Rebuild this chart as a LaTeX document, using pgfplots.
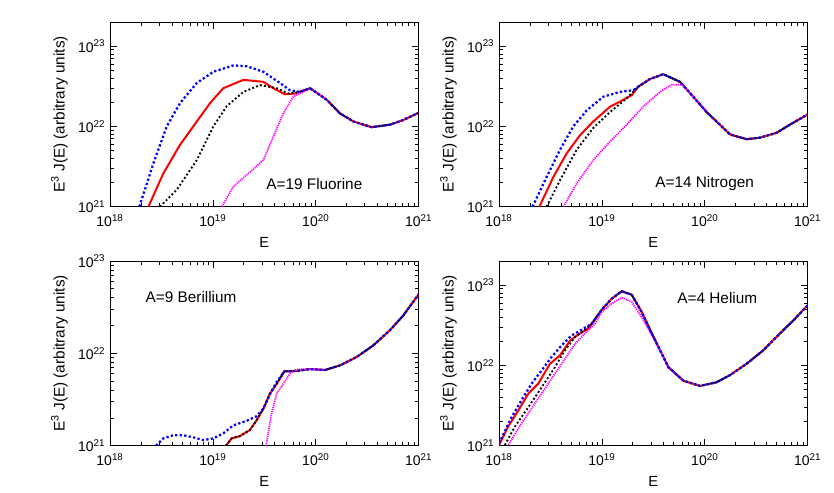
\documentclass[border=0pt]{standalone}
\usepackage{fontspec}
\setmainfont{Liberation Sans}
\usepackage{pgfplots}
\pgfplotsset{compat=1.18}
\definecolor{cred}{RGB}{255,0,0}
\definecolor{cblue}{RGB}{0,0,255}
\definecolor{cmag}{RGB}{255,0,255}
\pgfplotsset{
  every axis/.append style={
    scale only axis, width=231.5pt, height=138.5pt,
    xmin=1e18, xmax=1e21, ymin=1e21, ymax=2e23,
    xtick={1e18,1e19,1e20,1e21},
    xticklabels={10\textsuperscript{18},10\textsuperscript{19},10\textsuperscript{20},10\textsuperscript{21}},
    ytick={1e21,1e22,1e23},
    yticklabels={10\textsuperscript{21},10\textsuperscript{22},10\textsuperscript{23}},
    minor xtick={2e18,3e18,4e18,5e18,6e18,7e18,8e18,9e18,2e19,3e19,4e19,5e19,6e19,7e19,8e19,9e19,2e20,3e20,4e20,5e20,6e20,7e20,8e20,9e20},
    minor ytick={2e21,3e21,4e21,5e21,6e21,7e21,8e21,9e21,2e22,3e22,4e22,5e22,6e22,7e22,8e22,9e22},
    major tick length=5pt, minor tick length=3pt,
    tick align=inside, tick style={black, line width=0.6pt},
    axis line style={line width=0.7pt},
    xticklabel style={font=\fontsize{10.5pt}{12pt}\selectfont, yshift=-2.5pt},
    yticklabel style={font=\fontsize{10.5pt}{12pt}\selectfont},
    xlabel style={font=\fontsize{11pt}{13pt}\selectfont, yshift=-1pt},
    ylabel style={font=\fontsize{11.5pt}{13pt}\selectfont, yshift=1pt},
    xlabel={E},
    ylabel={E\textsuperscript{3} J(E) (arbitrary units)},
  },
}
\tikzset{
  sred/.style={cred, line width=1.5pt},
  sblk/.style={black, line width=1.4pt, dash pattern=on 1.4pt off 1.7pt},
  sblu/.style={cblue, line width=1.7pt, dash pattern=on 1.7pt off 1.7pt},
  smag/.style={cmag, line width=1.3pt, dash pattern=on 0.9pt off 0.7pt},
  ann/.style={font=\fontsize{11.5pt}{13pt}\selectfont, anchor=west},
}
\begin{document}
\begin{tikzpicture}
\useasboundingbox (0,0) rectangle (625.5pt,369pt);
% ---------------- Fluorine ----------------
\begin{loglogaxis}[at={(82.5pt,214pt)}, anchor=south west]
\addplot[sred] coordinates {(2.36e18,1e21) (3.30e18,2.60e21) (4.79e18,5.89e21) (6.97e18,1.15e22) (9.38e18,1.95e22) (1.26e19,2.99e22) (1.98e19,3.80e22) (3.09e19,3.59e22) (3.86e19,2.99e22) (5.01e19,2.51e22) (6.28e19,2.57e22)
 (8.79e19,2.99e22) (1.28e20,2.14e22) (1.72e20,1.45e22) (2.32e20,1.15e22) (3.49e20,9.77e21) (5.25e20,1.05e22) (7.08e20,1.20e22) (1e21,1.48e22)};
\addplot[sblk] coordinates {(3.06e18,1e21) (4.45e18,1.62e21) (6.97e18,3.80e21) (1.01e19,1.0e22) (1.36e19,1.78e22) (1.98e19,2.69e22) (2.87e19,3.27e22) (4.17e19,2.99e22) (5.41e19,2.57e22) (7.01e19,2.69e22)
 (8.79e19,2.99e22) (1.28e20,2.14e22) (1.72e20,1.45e22) (2.32e20,1.15e22) (3.49e20,9.77e21) (5.25e20,1.05e22) (7.08e20,1.20e22) (1e21,1.48e22)};
\addplot[smag] coordinates {(1.22e19,1e21) (1.58e19,1.78e21) (2.13e19,2.48e21) (3.09e19,3.80e21) (3.86e19,7.41e21) (4.83e19,1.45e22) (6.04e19,2.34e22) (8.13e19,2.82e22)
 (8.79e19,2.99e22) (1.28e20,2.14e22)};
\addplot[sblu] coordinates {(1.93e18,1e21) (2.64e18,3.47e21) (3.56e18,1.0e22) (4.79e18,1.95e22) (6.97e18,3.47e22) (1.01e19,4.79e22) (1.58e19,5.75e22) (2.13e19,5.62e22) (3.09e19,4.79e22) (4.49e19,3.47e22) (5.61e19,2.82e22) (7.01e19,2.69e22)
 (8.79e19,2.99e22) (1.28e20,2.14e22) (1.72e20,1.45e22) (2.32e20,1.15e22) (3.49e20,9.77e21) (5.25e20,1.05e22) (7.08e20,1.20e22) (1e21,1.48e22)};
\node[ann] at (axis cs:2.98e19,1.92e21) {A=19 Fluorine};
\end{loglogaxis}
% ---------------- Nitrogen ----------------
\begin{loglogaxis}[at={(374.25pt,214pt)}, anchor=south west]
\addplot[sred] coordinates {(2.47e18,1e21) (3.37e18,2.34e21) (4.55e18,4.62e21) (6.12e18,7.76e21) (8.24e18,1.15e22) (1.20e19,1.76e22) (1.50e19,2.04e22) (1.95e19,2.45e22)
 (2.26e19,3.13e22) (2.93e19,3.89e22) (3.95e19,4.47e22) (5.74e19,3.59e22) (7.73e19,2.34e22) (1.04e20,1.51e22) (1.30e20,1.15e22) (1.76e20,7.94e21) (2.55e20,6.92e21) (3.44e20,7.24e21) (4.99e20,8.32e21) (6.71e20,1.05e22) (1e21,1.41e22)};
\addplot[sblk] coordinates {(2.90e18,1e21) (3.92e18,2.14e21) (5.69e18,5.13e21) (8.24e18,9.55e21) (1.20e19,1.51e22) (1.74e19,2.24e22)
 (2.26e19,3.13e22) (2.93e19,3.89e22) (3.95e19,4.47e22) (5.74e19,3.59e22) (7.73e19,2.34e22) (1.04e20,1.51e22) (1.30e20,1.15e22) (1.76e20,7.94e21) (2.55e20,6.92e21) (3.44e20,7.24e21) (4.99e20,8.32e21) (6.71e20,1.05e22) (1e21,1.41e22)};
\addplot[smag] coordinates {(4.22e18,1e21) (5.69e18,1.95e21) (8.24e18,3.80e21) (1.20e19,6.46e21) (1.74e19,1.05e22) (2.52e19,1.76e22) (3.67e19,2.69e22) (4.76e19,3.31e22) (6.03e19,3.30e22)
 (7.73e19,2.34e22) (1.04e20,1.51e22)};
\addplot[sblu] coordinates {(2.12e18,1e21) (2.90e18,2.34e21) (3.92e18,5.13e21) (5.27e18,1.0e22) (7.11e18,1.58e22) (1.03e19,2.34e22) (1.50e19,2.69e22) (2.02e19,2.82e22)
 (2.26e19,3.13e22) (2.93e19,3.89e22) (3.95e19,4.47e22) (5.74e19,3.59e22) (7.73e19,2.34e22) (1.04e20,1.51e22) (1.30e20,1.15e22) (1.76e20,7.94e21) (2.55e20,6.92e21) (3.44e20,7.24e21) (4.99e20,8.32e21) (6.71e20,1.05e22) (1e21,1.41e22)};
\node[ann] at (axis cs:2.98e19,1.92e21) {A=14 Nitrogen};
\end{loglogaxis}
% ---------------- Berillium ----------------
\begin{loglogaxis}[ymax=1e23, at={(82.5pt,34.7pt)}, anchor=south west]
\addplot[sred] coordinates {(1.34e19,1e21) (1.52e19,1.20e21) (1.83e19,1.27e21) (2.29e19,1.48e21) (2.66e19,1.89e21) (3.09e19,2.51e21) (3.59e19,3.67e21) (4.17e19,4.68e21)
 (4.94e19,6.38e21) (6.52e19,6.46e21) (8.79e19,6.76e21) (1.23e20,6.61e21) (1.72e20,7.41e21) (2.49e20,9.12e21) (3.62e20,1.22e22) (5.25e20,1.78e22) (7.08e20,2.57e22) (1e21,4.37e22)};
\addplot[sblk] coordinates {(1.34e19,1e21) (1.52e19,1.20e21) (1.83e19,1.27e21) (2.29e19,1.48e21) (2.66e19,1.89e21) (3.09e19,2.51e21) (3.59e19,3.67e21) (4.17e19,4.68e21)
 (4.94e19,6.38e21) (6.52e19,6.46e21) (8.79e19,6.76e21) (1.23e20,6.61e21) (1.72e20,7.41e21) (2.49e20,9.12e21) (3.62e20,1.22e22) (5.25e20,1.78e22) (7.08e20,2.57e22) (1e21,4.37e22)};
\addplot[smag] coordinates {(3.28e19,1e21) (3.72e19,2.24e21) (4.17e19,3.67e21) (4.83e19,4.68e21) (5.61e19,6.03e21) (6.52e19,6.70e21)
 (8.79e19,6.76e21) (1.23e20,6.61e21)};
\addplot[sblu] coordinates {(2.80e18,1e21) (3.30e18,1.20e21) (4.12e18,1.30e21) (5.15e18,1.30e21) (6.46e18,1.23e21) (8.07e18,1.15e21) (1.01e19,1.20e21) (1.26e19,1.36e21) (1.58e19,1.66e21) (2.13e19,1.86e21) (2.66e19,2.09e21) (3.09e19,2.51e21) (3.59e19,3.67e21) (4.17e19,4.90e21)
 (4.94e19,6.38e21) (6.52e19,6.46e21) (8.79e19,6.76e21) (1.23e20,6.61e21) (1.72e20,7.41e21) (2.49e20,9.12e21) (3.62e20,1.22e22) (5.25e20,1.78e22) (7.08e20,2.57e22) (1e21,4.37e22)};
\node[ann] at (axis cs:2.0e18,4.04e22) {A=9 Berillium};
\end{loglogaxis}
% ---------------- Helium ----------------
\begin{loglogaxis}[at={(374.25pt,34.7pt)}, anchor=south west]
\addplot[sred] coordinates {(1e18,1.02e21) (1.23e18,1.74e21) (1.54e18,2.75e21) (1.93e18,4.47e21) (2.41e18,5.96e21) (3.13e18,1.05e22) (3.92e18,1.34e22) (4.90e18,2.04e22) (6.12e18,2.51e22) (7.38e18,2.88e22) (7.96e18,3.31e22) (9.95e18,4.94e22)
 (1.24e19,6.76e22) (1.56e19,8.41e22) (1.95e19,7.59e22) (2.44e19,4.62e22) (3.05e19,2.51e22) (3.81e19,1.41e22) (4.42e19,9.55e21) (6.18e19,6.46e21) (8.97e19,5.56e21) (1.30e20,6.17e21) (1.76e20,7.59e21) (2.55e20,1.05e22) (3.71e20,1.55e22) (5.38e20,2.51e22) (7.24e20,3.63e22) (1e21,5.62e22)};
\addplot[sblk] coordinates {(1.14e18,1.02e21) (1.43e18,1.74e21) (1.93e18,3.02e21) (2.60e18,5.37e21) (3.50e18,9.55e21) (4.38e18,1.55e22) (5.48e18,2.26e22) (6.85e18,2.79e22) (7.96e18,3.31e22) (9.95e18,4.94e22)
 (1.24e19,6.76e22) (1.56e19,8.41e22) (1.95e19,7.59e22) (2.44e19,4.62e22) (3.05e19,2.51e22) (3.81e19,1.41e22) (4.42e19,9.55e21) (6.18e19,6.46e21) (8.97e19,5.56e21) (1.30e20,6.17e21) (1.76e20,7.59e21) (2.55e20,1.05e22) (3.71e20,1.55e22) (5.38e20,2.51e22) (7.24e20,3.63e22) (1e21,5.62e22)};
\addplot[smag] coordinates {(1.23e18,1.02e21) (1.66e18,1.91e21) (2.24e18,3.39e21) (3.02e18,5.96e21) (4.06e18,1.05e22) (5.48e18,1.86e22) (6.85e18,2.51e22) (8.57e18,3.31e22) (9.95e18,4.62e22) (1.24e19,5.89e22) (1.56e19,7.00e22) (1.95e19,6.17e22) (2.44e19,3.98e22) (3.05e19,2.37e22) (3.81e19,1.41e22)
 (4.42e19,9.55e21) (6.18e19,6.46e21)};
\addplot[sblu] coordinates {(1e18,1.07e21) (1.33e18,2.29e21) (1.66e18,3.72e21) (2.08e18,5.96e21) (2.60e18,8.71e21) (3.25e18,1.28e22) (4.06e18,1.78e22) (5.09e18,2.37e22) (6.37e18,2.79e22) (7.96e18,3.31e22) (9.95e18,4.94e22)
 (1.24e19,6.76e22) (1.56e19,8.41e22) (1.95e19,7.59e22) (2.44e19,4.62e22) (3.05e19,2.51e22) (3.81e19,1.41e22) (4.42e19,9.55e21) (6.18e19,6.46e21) (8.97e19,5.56e21) (1.30e20,6.17e21) (1.76e20,7.59e21) (2.55e20,1.05e22) (3.71e20,1.55e22) (5.38e20,2.51e22) (7.24e20,3.63e22) (1e21,5.62e22)};
\node[ann] at (axis cs:4.88e19,6.97e22) {A=4 Helium};
\end{loglogaxis}
\end{tikzpicture}
\end{document}
